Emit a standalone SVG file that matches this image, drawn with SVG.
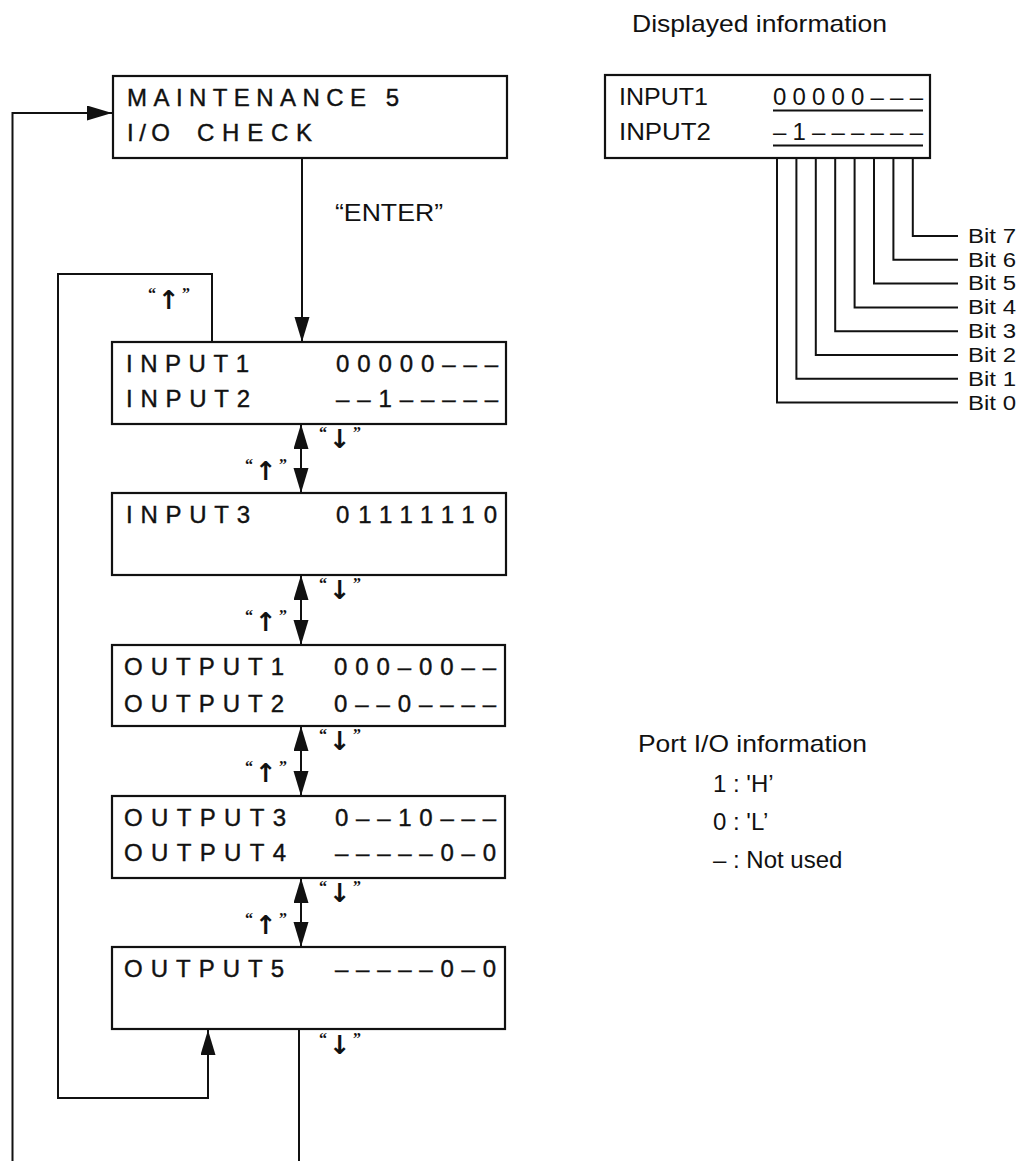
<svg xmlns="http://www.w3.org/2000/svg" width="1019" height="1161" viewBox="0 0 1019 1161">
<style>
  .box{fill:#fff;stroke:#111;stroke-width:2.2}
  .ln{fill:none;stroke:#111;stroke-width:2}
  .lcd{font-family:"Liberation Sans",Arial,sans-serif;font-size:24px;fill:#111;stroke:#111;stroke-width:0.4}
  .txt{font-family:"Liberation Sans",Arial,sans-serif;font-size:24px;fill:#111}
  .bit{font-family:"Liberation Sans",Arial,sans-serif;font-size:20px;fill:#111}
  .key{font-family:"Liberation Serif","DejaVu Serif",serif;fill:#111;text-anchor:middle;letter-spacing:2px}
  .q{font-size:16px;font-weight:bold}
  .ar{font-family:"DejaVu Sans",sans-serif;font-size:26px;font-weight:bold}
</style>
<defs>
  <marker id="ah" markerUnits="userSpaceOnUse" markerWidth="26" markerHeight="16" refX="25" refY="7.5" orient="auto-start-reverse">
    <path d="M0,0 L25,7.5 L0,15 z" fill="#111"/>
  </marker>
</defs>

<g id="connectors">
  <path class="ln" d="M12.5,1161 V113 H112" marker-end="url(#ah)"/>
  <path class="ln" d="M302,158 V342" marker-end="url(#ah)"/>
  <path class="ln" d="M212,342 V274 H58 V1098 H208 V1030" marker-end="url(#ah)"/>
  <path class="ln" d="M301,424 V493" marker-start="url(#ah)" marker-end="url(#ah)"/>
  <path class="ln" d="M301,575 V645" marker-start="url(#ah)" marker-end="url(#ah)"/>
  <path class="ln" d="M301,726 V796" marker-start="url(#ah)" marker-end="url(#ah)"/>
  <path class="ln" d="M301,878 V947" marker-start="url(#ah)" marker-end="url(#ah)"/>
  <path class="ln" d="M299,1029 V1161"/>
  <path class="ln" d="M777,158 V402.6 H958"/>
  <path class="ln" d="M796.4,158 V378.8 H958"/>
  <path class="ln" d="M815.8,158 V355 H958"/>
  <path class="ln" d="M835.2,158 V331.2 H958"/>
  <path class="ln" d="M854.6,158 V307.4 H958"/>
  <path class="ln" d="M874,158 V283.6 H958"/>
  <path class="ln" d="M893.4,158 V259.8 H958"/>
  <path class="ln" d="M912.8,158 V236 H958"/>
</g>

<g id="connector-labels">
  <text class="txt" x="335" y="221" font-size="22" textLength="108" lengthAdjust="spacingAndGlyphs">“ENTER”</text>
  <text class="key" x="170" y="309"><tspan class="q" dy="-10">“</tspan><tspan class="ar" dy="10">↑</tspan><tspan class="q" dy="-10">”</tspan></text>

  <text class="key" x="341" y="448"><tspan class="q" dy="-10">“</tspan><tspan class="ar" dy="10">↓</tspan><tspan class="q" dy="-10">”</tspan></text>
  <text class="key" x="267" y="480"><tspan class="q" dy="-10">“</tspan><tspan class="ar" dy="10">↑</tspan><tspan class="q" dy="-10">”</tspan></text>

  <text class="key" x="341" y="599"><tspan class="q" dy="-10">“</tspan><tspan class="ar" dy="10">↓</tspan><tspan class="q" dy="-10">”</tspan></text>
  <text class="key" x="267" y="631"><tspan class="q" dy="-10">“</tspan><tspan class="ar" dy="10">↑</tspan><tspan class="q" dy="-10">”</tspan></text>

  <text class="key" x="341" y="750"><tspan class="q" dy="-10">“</tspan><tspan class="ar" dy="10">↓</tspan><tspan class="q" dy="-10">”</tspan></text>
  <text class="key" x="267" y="782"><tspan class="q" dy="-10">“</tspan><tspan class="ar" dy="10">↑</tspan><tspan class="q" dy="-10">”</tspan></text>

  <text class="key" x="341" y="902"><tspan class="q" dy="-10">“</tspan><tspan class="ar" dy="10">↓</tspan><tspan class="q" dy="-10">”</tspan></text>
  <text class="key" x="267" y="934"><tspan class="q" dy="-10">“</tspan><tspan class="ar" dy="10">↑</tspan><tspan class="q" dy="-10">”</tspan></text>

  <text class="key" x="341" y="1054"><tspan class="q" dy="-10">“</tspan><tspan class="ar" dy="10">↓</tspan><tspan class="q" dy="-10">”</tspan></text>
</g>

<g id="maintenance5">
  <rect class="box" x="113" y="76" width="394" height="82"/>
  <text class="lcd" x="127" y="106" textLength="272" lengthAdjust="spacing">MAINTENANCE 5</text>
  <text class="lcd" x="127" y="141"><tspan textLength="43" lengthAdjust="spacing">I/O</tspan><tspan x="197" textLength="115" lengthAdjust="spacing">CHECK</tspan></text>
</g>

<g id="input12">
  <rect class="box" x="112" y="342" width="394" height="82"/>
  <text class="lcd" x="126" y="372" textLength="123" lengthAdjust="spacing">INPUT1</text>
  <text class="lcd" x="336" y="372" textLength="162" lengthAdjust="spacing">00000–––</text>
  <text class="lcd" x="126" y="407" textLength="124" lengthAdjust="spacing">INPUT2</text>
  <text class="lcd" x="336" y="407" textLength="162" lengthAdjust="spacing">––1–––––</text>
</g>

<g id="input3">
  <rect class="box" x="112" y="493" width="394" height="82"/>
  <text class="lcd" x="126" y="523" textLength="124" lengthAdjust="spacing">INPUT3</text>
  <text class="lcd" x="336" y="523" textLength="161" lengthAdjust="spacing">01111110</text>
</g>

<g id="output12">
  <rect class="box" x="112" y="645" width="393" height="81"/>
  <text class="lcd" x="124" y="675" textLength="160" lengthAdjust="spacing">OUTPUT1</text>
  <text class="lcd" x="334" y="675" textLength="162" lengthAdjust="spacing">000–00––</text>
  <text class="lcd" x="124" y="712" textLength="160" lengthAdjust="spacing">OUTPUT2</text>
  <text class="lcd" x="334" y="712" textLength="162" lengthAdjust="spacing">0––0––––</text>
</g>

<g id="output34">
  <rect class="box" x="112" y="796" width="393" height="82"/>
  <text class="lcd" x="124" y="826" textLength="162" lengthAdjust="spacing">OUTPUT3</text>
  <text class="lcd" x="335" y="826" textLength="161" lengthAdjust="spacing">0––10–––</text>
  <text class="lcd" x="124" y="861" textLength="162" lengthAdjust="spacing">OUTPUT4</text>
  <text class="lcd" x="335" y="861" textLength="161" lengthAdjust="spacing">–––––0–0</text>
</g>

<g id="output5">
  <rect class="box" x="112" y="947" width="393" height="82"/>
  <text class="lcd" x="124" y="977" textLength="160" lengthAdjust="spacing">OUTPUT5</text>
  <text class="lcd" x="335" y="977" textLength="161" lengthAdjust="spacing">–––––0–0</text>
</g>

<g id="displayed-info">
  <text class="txt" x="632" y="32" font-size="25" textLength="255" lengthAdjust="spacingAndGlyphs">Displayed information</text>
  <rect class="box" x="605" y="75" width="325" height="83"/>
  <text class="txt" x="619" y="105" textLength="89" lengthAdjust="spacingAndGlyphs">INPUT1</text>
  <text class="txt" x="619" y="140" textLength="92" lengthAdjust="spacingAndGlyphs">INPUT2</text>
  <text class="txt" x="773" y="105" textLength="150" lengthAdjust="spacing">00000–––</text>
  <text class="txt" x="773" y="140" textLength="150" lengthAdjust="spacing">–1––––––</text>
  <path class="ln" d="M773,110.5 H923 M773,145.5 H923"/>
</g>

<g id="bit-labels">
  <text class="bit" x="968" y="243" textLength="48" lengthAdjust="spacingAndGlyphs">Bit 7</text>
  <text class="bit" x="968" y="267" textLength="48" lengthAdjust="spacingAndGlyphs">Bit 6</text>
  <text class="bit" x="968" y="290" textLength="48" lengthAdjust="spacingAndGlyphs">Bit 5</text>
  <text class="bit" x="968" y="314" textLength="48" lengthAdjust="spacingAndGlyphs">Bit 4</text>
  <text class="bit" x="968" y="338" textLength="48" lengthAdjust="spacingAndGlyphs">Bit 3</text>
  <text class="bit" x="968" y="362" textLength="48" lengthAdjust="spacingAndGlyphs">Bit 2</text>
  <text class="bit" x="968" y="386" textLength="48" lengthAdjust="spacingAndGlyphs">Bit 1</text>
  <text class="bit" x="968" y="410" textLength="48" lengthAdjust="spacingAndGlyphs">Bit 0</text>
</g>

<g id="port-legend">
  <text class="txt" x="638" y="752" textLength="229" lengthAdjust="spacingAndGlyphs">Port I/O information</text>
  <text class="txt" x="713" y="792">1 : 'H’</text>
  <text class="txt" x="713" y="830">0 : 'L’</text>
  <text class="txt" x="713" y="868">– : Not used</text>
</g>
</svg>
